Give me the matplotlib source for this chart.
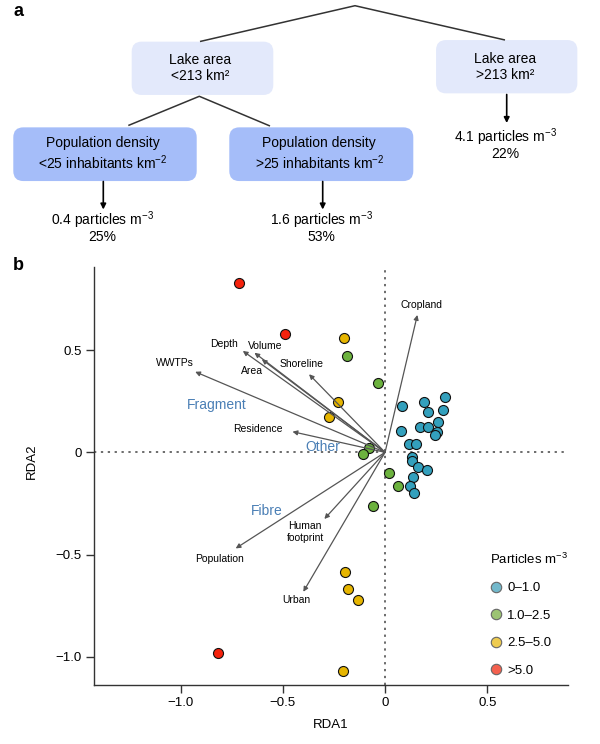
import matplotlib

matplotlib.use("Agg")

import matplotlib.pyplot as plt
from matplotlib.patches import FancyBboxPatch
from matplotlib.lines import Line2D
import numpy as np

plt.rcParams["font.family"] = ["Liberation Sans", "DejaVu Sans"]
plt.rcParams["mathtext.fontset"] = "custom"
plt.rcParams["mathtext.rm"] = "Liberation Sans"
plt.rcParams["mathtext.it"] = "Liberation Sans"

# ---- panel a: regression tree ----
node_labels = ["Lake area\n<213 km²", "Lake area\n>213 km²",
               "Population density\n<25 inhabitants km$^{-2}$",
               "Population density\n>25 inhabitants km$^{-2}$"]
leaf_values = [0.4, 1.6, 4.1]
leaf_shares = [25, 53, 22]

# ---- panel b: RDA biplot ----
blue_x = [0.294, 0.191, 0.083, 0.212, 0.282, 0.261, 0.171, 0.212, 0.253, 0.245,
          0.077, 0.119, 0.152, 0.134, 0.131, 0.160, 0.204, 0.137, 0.121, 0.142]
blue_y = [0.269, 0.246, 0.228, 0.198, 0.207, 0.149, 0.122, 0.122, 0.101, 0.085,
          0.105, 0.039, 0.040, -0.024, -0.041, -0.073, -0.086, -0.122, -0.164, -0.201]
green_x = [-0.184, -0.034, -0.077, -0.109, 0.018, -0.060, 0.062]
green_y = [0.471, 0.338, 0.020, -0.010, -0.100, -0.261, -0.163]
yellow_x = [-0.201, -0.228, -0.276, -0.196, -0.183, -0.130, -0.204]
yellow_y = [0.561, 0.245, 0.174, -0.587, -0.670, -0.723, -1.068]
red_x = [-0.716, -0.489, -0.818]
red_y = [0.830, 0.577, -0.983]

variables = ["WWTPs", "Depth", "Volume", "Area", "Shoreline", "Residence",
             "Cropland", "Population", "Human\nfootprint", "Urban"]
var_x = [-0.929, -0.696, -0.639, -0.603, -0.372, -0.453, 0.158, -0.731, -0.297, -0.400]
var_y = [0.394, 0.496, 0.487, 0.455, 0.382, 0.101, 0.672, -0.470, -0.326, -0.682]

particle_types = ["Fragment", "Other", "Fibre"]
legend_labels = ["0–1.0", "1.0–2.5", "2.5–5.0", ">5.0"]

# layout of labels (data units)
VAR_LABEL_POS = [(-1.027, 0.435), (-0.786, 0.530), (-0.584, 0.520), (-0.649, 0.398),
                 (-0.408, 0.432), (-0.620, 0.113), (0.176, 0.721), (-0.811, -0.522),
                 (-0.391, -0.391), (-0.432, -0.723)]
TYPE_LABEL_POS = [(-0.823, 0.231), (-0.307, 0.027), (-0.579, -0.287)]

POINT_COLORS = ["#33a0bd", "#6cb23e", "#e6b500", "#f5220c"]
LEGEND_COLORS = ["#72b8cb", "#9cc473", "#eecb4f", "#f4604e"]
BOX_LIGHT = "#e3e9fb"
BOX_DARK = "#a5bdf9"
TYPE_COLOR = "#4a7fb5"

fig = plt.figure(figsize=(6.0, 7.44), dpi=100)

# overlay in pixel coordinates for the tree and panel letters
over = fig.add_axes([0, 0, 1, 1])
over.set_xlim(0, 600)
over.set_ylim(744, 0)
over.axis("off")

over.text(18, 12, "a", fontsize=13, fontweight="bold", ha="center", va="center")
over.text(18, 265, "b", fontsize=13, fontweight="bold", ha="center", va="center")

# boxes: (center x, center y, width, height, colour)
box_geom = [(202.5, 68.3, 141.6, 53.3, BOX_LIGHT),
            (506.7, 66.7, 141.3, 53.3, BOX_LIGHT),
            (105.0, 154.2, 183.4, 53.7, BOX_DARK),
            (321.3, 154.2, 184.0, 53.7, BOX_DARK)]
for label, (cx, cy, w, h, col) in zip(node_labels, box_geom):
    over.add_patch(FancyBboxPatch((cx - w / 2, cy - h / 2), w, h,
                                  boxstyle="round,pad=0,rounding_size=10",
                                  facecolor=col, edgecolor="none"))
    over.text(cx - 2, cy, label, ha="center", va="center", fontsize=10,
              linespacing=1.2)

line_kw = dict(color="#333333", lw=1.1, solid_capstyle="butt")
over.plot([200, 355, 505], [41.5, 5.7, 40.0], **line_kw)
over.plot([128.3, 199.3, 270], [125.5, 96.3, 126], **line_kw)

leaf_geom = [(103.3, 181.5, 209.5, 220.5), (322.7, 181.5, 209.5, 220.5),
             (506.7, 94.5, 123.0, 137.0)]
for val, share, (ax_x, y0, y1, ty) in zip(leaf_values, leaf_shares, leaf_geom):
    over.annotate("", xy=(ax_x, y1), xytext=(ax_x, y0),
                  arrowprops=dict(arrowstyle="-|>", color="black", lw=1.2,
                                  mutation_scale=8, shrinkA=0, shrinkB=0))
    over.text(ax_x - 1, ty, f"{val} particles m$^{{-3}}$", ha="center",
              va="center", fontsize=10)
    over.text(ax_x - 1, ty + 16.5, f"{share}%", ha="center", va="center",
              fontsize=10)

# ---- biplot ----
ax = fig.add_axes([94 / 600, (744 - 685) / 744, (568 - 94) / 600, (685 - 266.7) / 744])
ax.set_xlim(-1.424, 0.895)
ax.set_ylim(-1.138, 0.908)
ax.patch.set_alpha(0)
for side in ["top", "right"]:
    ax.spines[side].set_visible(False)
for side in ["left", "bottom"]:
    ax.spines[side].set_color("#333333")
    ax.spines[side].set_linewidth(1.0)

ticks = [-1.0, -0.5, 0, 0.5]
tick_text = ["−1.0", "−0.5", "0", "0.5"]
ax.set_xticks(ticks)
ax.set_xticklabels(tick_text)
ax.set_yticks(ticks)
ax.set_yticklabels(tick_text)
ax.tick_params(direction="out", length=6, width=1.0, color="#333333",
               labelsize=9.5, pad=3)

ax.axhline(0, color="#444444", lw=1.1, ls=(0, (1.5, 3)), zorder=1)
ax.axvline(0, color="#444444", lw=1.1, ls=(0, (1.5, 3)), zorder=1)

ax.set_xlabel("RDA1", fontsize=9.5, labelpad=7)
ax.set_ylabel("RDA2", fontsize=9.5)
ax.yaxis.set_label_coords(-0.118, 0.534)

groups = [(blue_x, blue_y), (green_x, green_y), (yellow_x, yellow_y), (red_x, red_y)]
for (gx, gy), col in zip(groups, POINT_COLORS):
    ax.scatter(gx, gy, s=52, c=col, edgecolors="#111111", linewidths=0.8, zorder=3)

for name, tx, ty, (lx, ly) in zip(variables, var_x, var_y, VAR_LABEL_POS):
    ax.annotate("", xy=(tx, ty), xytext=(0, 0),
                arrowprops=dict(arrowstyle="-|>", color="#555555", lw=0.9,
                                mutation_scale=7, shrinkA=0, shrinkB=0),
                zorder=4)
    ax.text(lx, ly, name, ha="center", va="center", fontsize=7.5,
            linespacing=1.25, zorder=5)

for name, (lx, ly) in zip(particle_types, TYPE_LABEL_POS):
    ax.text(lx, ly, name, ha="center", va="center", fontsize=10,
            color=TYPE_COLOR, zorder=5)

handles = [Line2D([], [], ls="", marker="o", markersize=7.5, markerfacecolor=c,
                  markeredgecolor="#666666", markeredgewidth=0.8)
           for c in LEGEND_COLORS]
leg = ax.legend(handles, legend_labels, title="Particles m$^{-3}$",
                loc="upper left", bbox_to_anchor=(478 / 600, (744 - 540) / 744),
                bbox_transform=fig.transFigure, frameon=False, fontsize=9.5,
                title_fontsize=9.5, labelspacing=1.15, handlelength=1.0,
                handletextpad=0.3, alignment="left")

fig.savefig("out.png", dpi=100)
